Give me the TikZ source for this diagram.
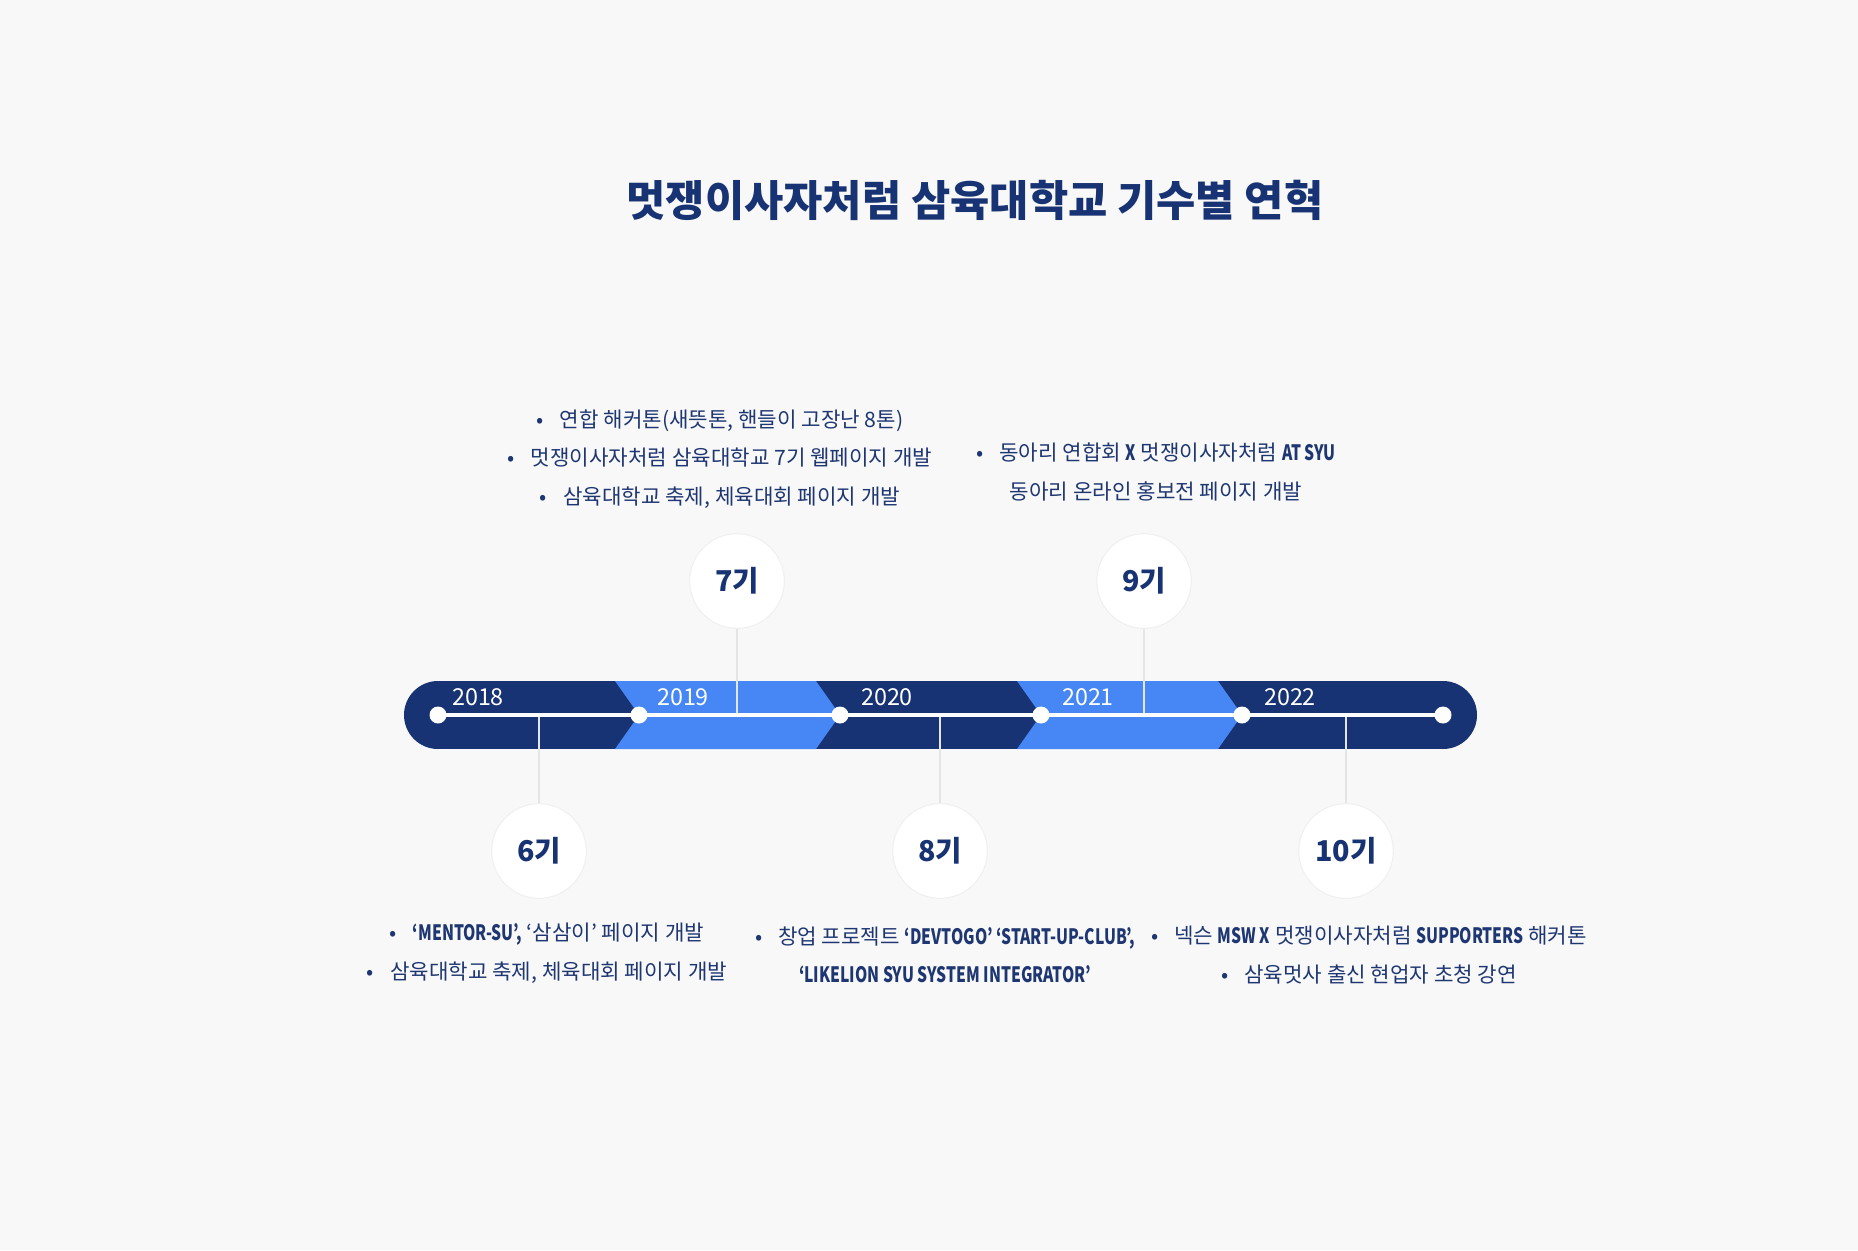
\documentclass[tikz,border=0pt]{standalone}
\usepackage{fontspec}
\setmainfont{Noto Sans CJK KR}
\usepackage{graphicx}
\usetikzlibrary{positioning,calc}
\definecolor{navy}{RGB}{24,51,115}
\definecolor{skyblue}{RGB}{70,135,245}
\definecolor{pagebg}{RGB}{248,248,248}
\definecolor{inknavy}{RGB}{30,54,114}
\tikzset{
  titletxt/.style={text=navy, font=\bfseries\fontsize{32}{36}\selectfont},
  axisln/.style={white, line width=2.4pt},
  stem/.style={white!90!black, line width=1.1pt},
  yearlbl/.style={text=white, font=\fontsize{17.5}{20}\selectfont},
  gencirc/.style={circle, fill=white, draw=black!6, line width=0.8pt, minimum size=71pt,
    inner sep=0pt, text=navy, font=\bfseries\fontsize{21.5}{24}\selectfont},
  note/.style={align=center, text=inknavy, font=\fontsize{15.9}{28.9}\selectfont},
}
\newcommand{\itm}{\textbullet\hspace{0.75em}}
\newcommand{\cond}[1]{\scalebox{0.74}[1]{\bfseries #1}}

\begin{document}
\begin{tikzpicture}[x=0.75pt,y=-0.75pt]
  % page
  \fill[pagebg] (0,0) rectangle (1858,1250);
  \node[titletxt] (title) at (975,200) {멋쟁이사자처럼 삼육대학교 기수별 연혁};
  % bar: navy base with rounded ends, blue chevrons on top
  \fill[navy] (438,715) circle[radius=34];
  \fill[navy] (1443,715) circle[radius=34];
  \fill[navy] (438,681) rectangle (1443,749);
  \fill[skyblue] (615,681) -- (816,681) -- (840,715) -- (816,749) -- (615,749) -- (639,715) -- cycle;
  \fill[skyblue] (1017,681) -- (1218,681) -- (1242,715) -- (1218,749) -- (1017,749) -- (1041,715) -- cycle;
  % year points
  \coordinate (d0) at (438,715);
  \coordinate (d1) at (639,715);
  \coordinate (d2) at (840,715);
  \coordinate (d3) at (1041,715);
  \coordinate (d4) at (1242,715);
  \coordinate (d5) at (1443,715);
  \node[yearlbl] (y2018) at ($(d0)+(40,-18)$) {2018};
  \node[yearlbl] (y2019) at ($(d1)+(44,-18)$) {2019};
  \node[yearlbl] (y2020) at ($(d2)+(47,-18)$) {2020};
  \node[yearlbl] (y2021) at ($(d3)+(47,-18)$) {2021};
  \node[yearlbl] (y2022) at ($(d4)+(48,-18)$) {2022};
  % generation circles
  \node[gencirc] (g6) at (539,851) {6기};
  \node[gencirc] (g7) at (737,581) {7기};
  \node[gencirc] (g8) at (940,851) {8기};
  \node[gencirc] (g9) at (1144,581) {9기};
  \node[gencirc] (g10) at (1346,851) {10기};
  % stems down to the axis
  \draw[stem] (g6.north) -- (g6.north |- d0);
  \draw[stem] (g7.south) -- (g7.south |- d0);
  \draw[stem] (g8.north) -- (g8.north |- d0);
  \draw[stem] (g9.south) -- (g9.south |- d0);
  \draw[stem] (g10.north) -- (g10.north |- d0);
  \draw[axisln] (d0) -- (d5);
  \foreach \i in {0,...,5}
    \fill[white] (d\i) circle[radius=8.5];
  % notes
  \node[note] (n7) at (720,459) {\itm 연합 해커톤(새뜻톤, 핸들이 고장난 8톤)\\
    \itm 멋쟁이사자처럼 삼육대학교 7기 웹페이지 개발\\
    \itm 삼육대학교 축제, 체육대회 페이지 개발};
  \node[note] (n9) at (1156,472) {\itm 동아리 연합회 \cond{X} 멋쟁이사자처럼 \cond{AT SYU}\\
    동아리 온라인 홍보전 페이지 개발};
  \node[note] (n6) at (547,953) {\itm \cond{‘MENTOR-SU’,} ‘삼삼이’ 페이지 개발\\
    \itm 삼육대학교 축제, 체육대회 페이지 개발};
  \node[note] (n8) at (945,955) {\itm 창업 프로젝트 \cond{‘DEVTOGO’ ‘START-UP-CLUB’,}\\
    \cond{‘LIKELION SYU SYSTEM INTEGRATOR’}};
  \node[note] (n10) at (1369,955) {\itm 넥슨 \cond{MSW X} 멋쟁이사자처럼 \cond{SUPPORTERS} 해커톤\\
    \itm 삼육멋사 출신 현업자 초청 강연};
\end{tikzpicture}
\end{document}
